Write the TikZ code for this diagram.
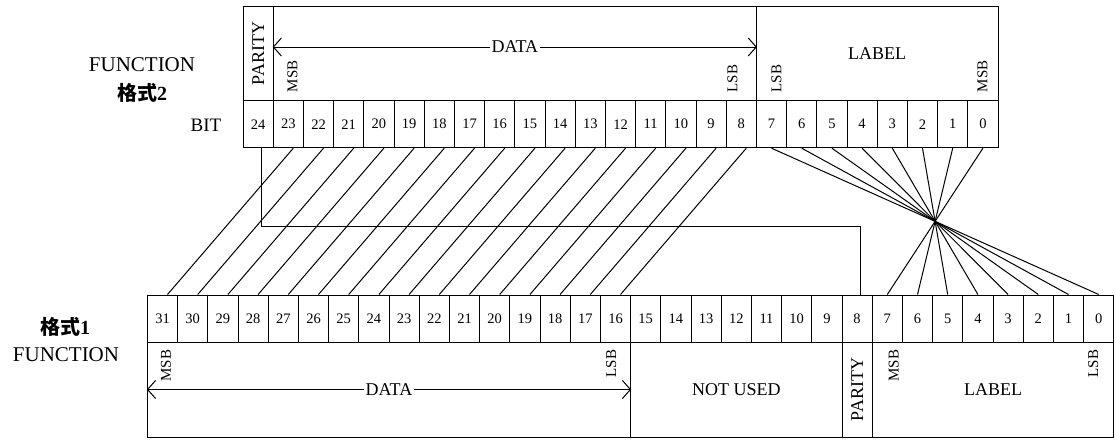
\documentclass[tikz,border=0pt]{standalone}
\usepackage{fontspec}
\setmainfont{Liberation Serif}
\newfontfamily\cjkfont{Noto Sans CJK SC}
\usetikzlibrary{arrows.meta,positioning}
\tikzset{
  bitcell/.style={draw, line width=1pt, minimum width=30.2pt, minimum height=47pt, inner sep=0pt,
                  font=\fontsize{14.5}{16}\selectfont},
  field/.style={draw, line width=1pt, inner sep=0pt, font=\fontsize{18}{20}\selectfont},
  sidebit/.style={rotate=90, inner sep=0pt, font=\fontsize{15}{16}\selectfont},
  wire/.style={line width=1pt},
  span/.style={{Straight Barb[length=8pt,width=18pt]}-{Straight Barb[length=8pt,width=18pt]}, line width=1pt},
  side/.style={inner sep=0pt, font=\fontsize{21}{24}\selectfont},
}

\begin{document}
\begin{tikzpicture}[x=1pt, y=-1pt]
\useasboundingbox (0,0) rectangle (1115,439);

% Format 2 word
\foreach \i in {24,...,0}
  \node[bitcell] (t\i) at ({243+(24-\i+0.5)*30.2},124.2) {\i};
\node[field, rotate=90, minimum width=94.7pt, minimum height=30.2pt] (tpar) at (258.1,53.35) {PARITY};
\node[field, minimum width=483.2pt, minimum height=94.7pt] (tdata) at (514.8,53.35) {};
\node[field, minimum width=241.6pt, minimum height=94.7pt] (tlabel) at (877.2,53.35) {LABEL};
\draw[span] ([yshift=6.35pt]tdata.west) -- ([yshift=6.35pt]tdata.east)
  node[midway, fill=white, inner sep=1.5pt, font=\fontsize{18}{20}\selectfont] (tdatatxt) {DATA};
\node[sidebit, anchor=west] (tmsb) at ([xshift=19.8pt, yshift=8.7pt]tdata.south west) {MSB};
\node[sidebit, anchor=west] (tlsb) at ([xshift=-24.4pt, yshift=8.7pt]tdata.south east) {LSB};
\node[sidebit, anchor=west] (tllsb) at ([xshift=20.6pt, yshift=8.7pt]tlabel.south west) {LSB};
\node[sidebit, anchor=west] (tlmsb) at ([xshift=-16pt, yshift=8.7pt]tlabel.south east) {MSB};

\node[side] (fn2) at (142,65) {FUNCTION};
\node[side, font=\fontsize{20}{24}\selectfont\bfseries] (fmt2) at (142,93) {{\cjkfont 格式}2};
\node[side, font=\fontsize{19}{22}\selectfont] (bitlbl) at (206,125.5) {BIT};

% Format 1 word
\foreach \i in {31,...,0}
  \node[bitcell] (b\i) at ({147.4+(31-\i+0.5)*30.2},318.5) {\i};
\node[field, minimum width=483.2pt, minimum height=95pt] (bdata) at (389.0,389.5) {};
\node[field, minimum width=211.4pt, minimum height=95pt] (bunused) at (736.3,389.5) {NOT USED};
\node[field, rotate=90, minimum width=95pt, minimum height=30.2pt] (bpar) at (857.1,389.5) {PARITY};
\node[field, minimum width=241.6pt, minimum height=95pt] (blabel) at (993.0,389.5) {LABEL};
\draw[span] (bdata.west) -- (bdata.east)
  node[midway, fill=white, inner sep=1.5pt, font=\fontsize{18}{20}\selectfont] (bdatatxt) {DATA};
\node[sidebit, anchor=east] (bmsb) at ([xshift=19pt, yshift=-8pt]bdata.north west) {MSB};
\node[sidebit, anchor=east] (blsb) at ([xshift=-20pt, yshift=-8pt]bdata.north east) {LSB};
\node[sidebit, anchor=east] (blmsb) at ([xshift=22pt, yshift=-8pt]blabel.north west) {MSB};
\node[sidebit, anchor=east] (bllsb) at ([xshift=-21pt, yshift=-8pt]blabel.north east) {LSB};

\node[side, font=\fontsize{20}{24}\selectfont\bfseries] (fmt1) at (65,327) {{\cjkfont 格式}1};
\node[side] (fn1) at (66,355) {FUNCTION};

% data bits 23..8 -> 31..16
\foreach \i in {8,...,23}{
  \pgfmathtruncatemacro\j{\i+8}
  \draw[wire] ([xshift=5pt]t\i.south) -- ([xshift=5pt]b\j.north);
}
% label bits, order reversed
\foreach \i in {0,...,7}{
  \pgfmathtruncatemacro\j{7-\i}
  \draw[wire] (t\i.south) -- (b\j.north);
}
% parity bit 24 -> 8
\draw[wire] ([xshift=3.5pt]t24.south) |- ([xshift=3pt, yshift=68.3pt]b8.north) -- ([xshift=3pt]b8.north);

\end{tikzpicture}
\end{document}
